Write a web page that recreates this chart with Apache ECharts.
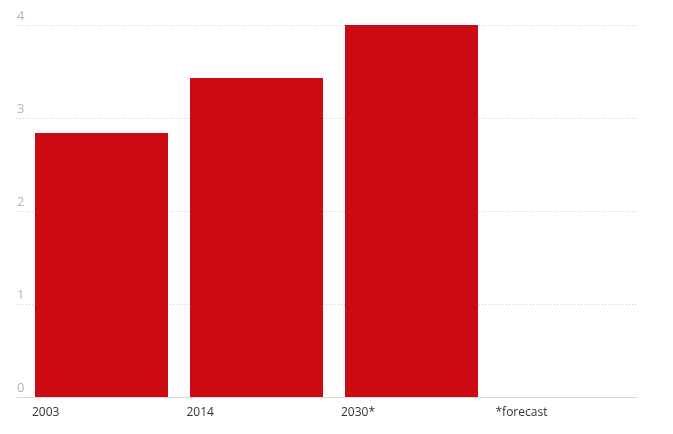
<!DOCTYPE html>
<html>
<head>
<meta charset="utf-8">
<script src="https://cdn.jsdelivr.net/npm/echarts@6/dist/echarts.min.js"></script>
<style>
  html, body { margin: 0; padding: 0; background: #fff; }
  #chart { width: 673px; height: 434px; }
</style>
</head>
<body>
<div id="chart"></div>
<script>
// data
var categories = ['2003', '2014', '2030*', '']
var values = [2.84, 3.43, 4.0, '-']
var tickLabels = ['2003', '2014', '2030*', '*forecast', '']

var font = '"Open Sans", "Noto Sans", sans-serif'
var chart = echarts.init(document.getElementById('chart'))

var hiddenY = function (idx) {
  return { type: 'value', gridIndex: idx, min: 0, max: 4, interval: 1, show: false }
}

chart.setOption({
  animation: false,
  grid: [
    // gridlines + baseline
    { left: 17, right: 36, top: 25, bottom: 37 },
    // bars
    { left: 24, right: 29, top: 25, bottom: 37 },
    // category labels
    { left: 32, right: 23, top: 25, bottom: 37 }
  ],
  xAxis: [
    {
      type: 'category', gridIndex: 0, data: ['a'],
      axisLine: { lineStyle: { color: '#d9d9d9', width: 1 } },
      axisTick: { show: false },
      axisLabel: { show: false }
    },
    {
      type: 'category', gridIndex: 1, data: categories,
      axisLine: { show: false }, axisTick: { show: false }, axisLabel: { show: false }
    },
    {
      type: 'category', gridIndex: 2, data: tickLabels, boundaryGap: false,
      axisLine: { show: false }, axisTick: { show: false },
      axisLabel: {
        align: 'left', margin: 10, interval: 0,
        color: '#333', fontSize: 12, fontFamily: font
      }
    }
  ],
  yAxis: [
    {
      type: 'value', gridIndex: 0, min: 0, max: 4, interval: 1,
      axisLine: { show: false }, axisTick: { show: false },
      splitLine: { lineStyle: { color: '#cfcfcf', type: [1, 2], width: 1 } },
      axisLabel: {
        inside: true, margin: 0, verticalAlign: 'bottom',
        padding: [0, 0, 2, 0],
        color: '#adb5c4', fontSize: 13, fontFamily: font
      }
    },
    hiddenY(1),
    hiddenY(2)
  ],
  series: [{
    type: 'bar',
    xAxisIndex: 1,
    yAxisIndex: 1,
    data: values,
    barWidth: 133,
    itemStyle: { color: '#cc0a13' }
  }]
})
</script>
</body>
</html>
